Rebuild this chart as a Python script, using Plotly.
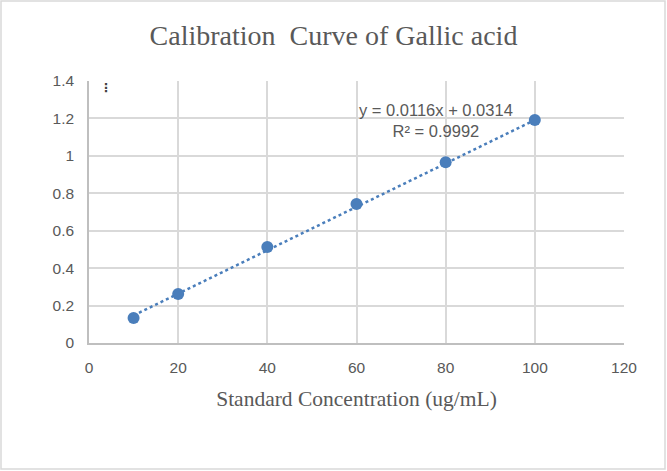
import numpy as np
import plotly.graph_objects as go

conc = [10, 20, 40, 60, 80, 100]
absorb = [0.134, 0.262, 0.513, 0.743, 0.966, 1.191]
slope = 0.0116
intercept = 0.0314
r_squared = 0.9992

blue = "#4a7ebb"
grid = "#d9d9d9"
txt = "#595959"

fit_x = np.array([min(conc), max(conc)])
fit_y = slope * fit_x + intercept

fig = go.Figure()
fig.add_trace(go.Scatter(x=fit_x, y=fit_y, mode="lines",
                         line=dict(color=blue, width=2.5, dash="dot"),
                         hoverinfo="skip", showlegend=False))
fig.add_trace(go.Scatter(x=conc, y=absorb, mode="markers",
                         marker=dict(color=blue, size=12),
                         showlegend=False))

fig.add_annotation(x=0.649, y=1.19, xref="paper", yref="y",
                   text=f"y = {slope}x + {intercept}<br>R² = {r_squared}",
                   showarrow=False, align="center",
                   font=dict(family="Liberation Sans", size=16.5, color=txt))
fig.add_annotation(x=0.016, y=1.36, xref="paper", yref="y",
                   text="<b>⋮</b>", showarrow=False,
                   font=dict(family="DejaVu Sans", size=12, color="#404040"))

fig.update_layout(
    width=667, height=471,
    paper_bgcolor="white", plot_bgcolor="white",
    margin=dict(l=89, r=43, t=81, b=128),
    title=dict(text="Calibration  Curve of Gallic acid", x=0.5, xanchor="center",
               y=0.925, yanchor="middle",
               font=dict(family="Liberation Serif", size=28, color=txt)),
    shapes=[dict(type="rect", xref="paper", yref="paper",
                 x0=-88/535, x1=(535+41)/535, y0=-126/262, y1=(262+80)/262,
                 line=dict(color="#d9d9d9", width=1.5))],
)
fig.update_xaxes(range=[0, 120], dtick=20, showgrid=True, gridcolor=grid, gridwidth=1.5,
                 showline=True, linecolor="#bfbfbf", linewidth=1.5, zeroline=False,
                 ticks="", ticklabelstandoff=10,
                 tickfont=dict(family="Liberation Sans", size=15.5, color=txt),
                 title=dict(text="Standard Concentration (ug/mL)", standoff=16,
                            font=dict(family="Liberation Serif", size=21.5, color=txt)))
fig.update_yaxes(range=[0, 1.4], dtick=0.2, showgrid=True, gridcolor=grid, gridwidth=1.5,
                 showline=True, linecolor="#bfbfbf", linewidth=1.5, zeroline=False,
                 ticks="", ticklabelstandoff=10, tickformat="~g",
                 tickfont=dict(family="Liberation Sans", size=15.5, color=txt))

fig.write_html("out.html", config={"displayModeBar": False},
               post_script="document.body.style.margin='0';")
